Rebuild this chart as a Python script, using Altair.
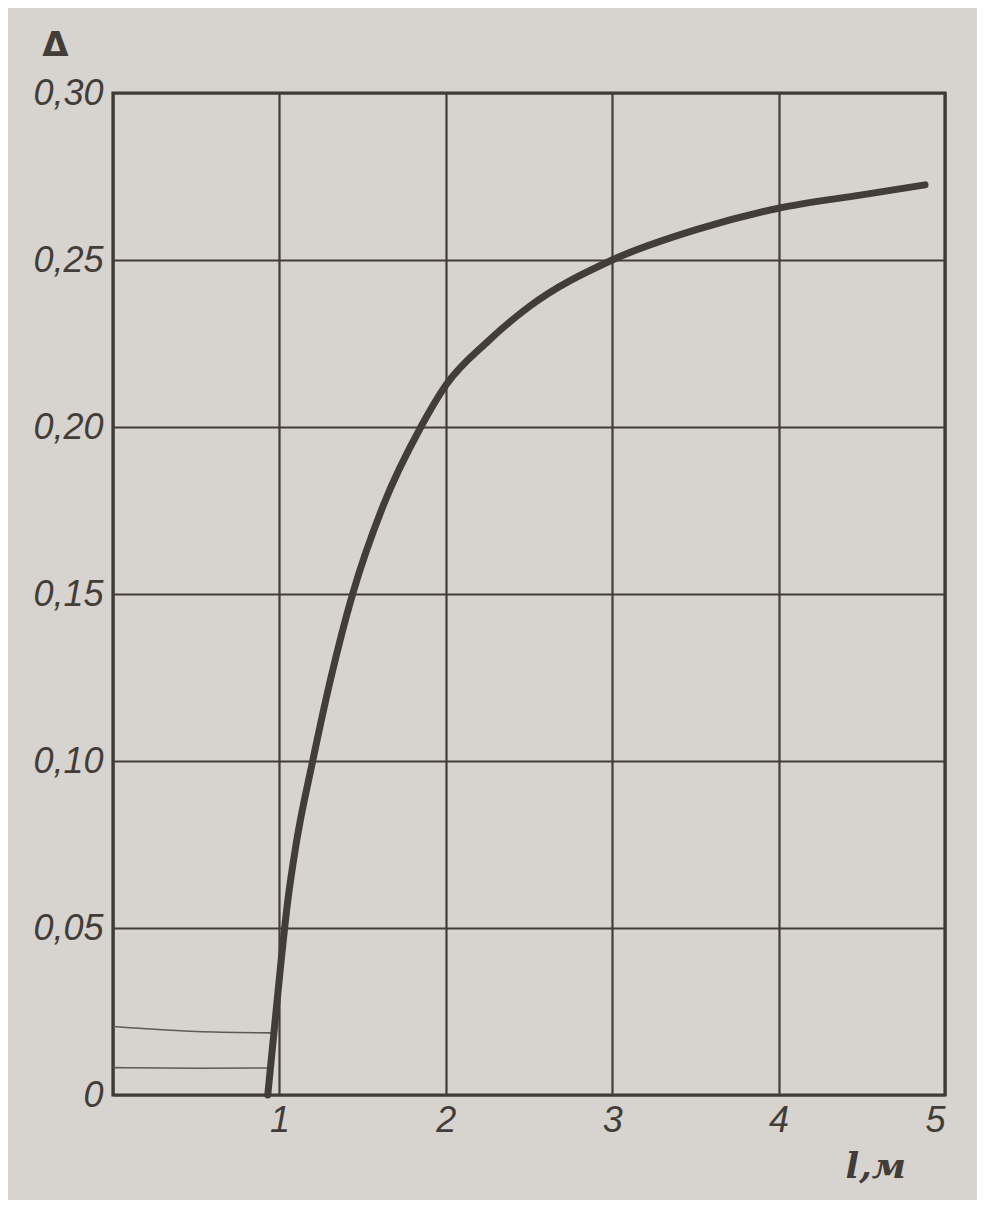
import altair as alt
import pandas as pd

# main curve  Δ(l)
l_vals = [0.93, 0.97, 1.01, 1.05, 1.10, 1.20, 1.31, 1.44, 1.62, 1.85,
          2.0, 2.25, 2.5, 3.0, 3.5, 4.0, 4.5, 4.88]
d_vals = [0.0, 0.02, 0.04, 0.058, 0.075, 0.10, 0.125, 0.15, 0.176, 0.20,
          0.2125, 0.2255, 0.236, 0.25, 0.259, 0.2655, 0.2695, 0.2725]

# faint thin lines at bottom left
faint_x = [0.0, 0.5, 0.95, 0.0, 0.5, 0.95]
faint_y = [0.0205, 0.019, 0.0186, 0.0082, 0.0080, 0.0081]
faint_id = ["a", "a", "a", "b", "b", "b"]

x_ticks = [0, 1, 2, 3, 4, 5]
y_ticks = [0, 0.05, 0.10, 0.15, 0.20, 0.25, 0.30]

ink = "#423d38"
paper = "#d7d3ce"

curve_df = pd.DataFrame({"l": l_vals, "d": d_vals})
faint_df = pd.DataFrame({"l": faint_x, "d": faint_y, "g": faint_id})

xscale = alt.Scale(domain=[0, 5], nice=False, zero=False)
yscale = alt.Scale(domain=[0, 0.30], nice=False)

xaxis = alt.Axis(
    values=x_ticks, grid=True, gridColor=ink, gridWidth=2.2, gridOpacity=1,
    domain=False, ticks=False, labelFont="Liberation Sans", labelFontStyle="italic",
    labelFontSize=36, labelColor=ink, labelPadding=8, format="d",
    labelExpr="datum.value == 0 ? '' : datum.label",
    title="l,м", titleFont="DejaVu Serif", titleFontStyle="italic",
    titleFontWeight="bold", titleFontSize=36, titleColor=ink,
    titleX=732, titleY=82, titleAnchor="start", titleBaseline="alphabetic")
yaxis = alt.Axis(
    values=y_ticks, grid=True, gridColor=ink, gridWidth=2.2, gridOpacity=1,
    domain=False, ticks=False, labelFont="Liberation Sans", labelFontStyle="italic",
    labelFontSize=36, labelColor=ink, labelPadding=10,
    labelExpr="datum.value == 0 ? '0' : replace(format(datum.value, '.2f'), '.', ',')",
    title="Δ", titleAngle=0, titleFont="DejaVu Sans", titleFontWeight="bold",
    titleFontSize=34, titleColor=ink, titleX=-58, titleY=-38,
    titleAlign="center", titleBaseline="alphabetic")

curve = alt.Chart(curve_df).mark_line(
    color=ink, strokeWidth=7, interpolate="monotone", strokeCap="round"
).encode(
    x=alt.X("l:Q", scale=xscale, axis=xaxis),
    y=alt.Y("d:Q", scale=yscale, axis=yaxis),
    order="l:Q",
)

faint = alt.Chart(faint_df).mark_line(
    color="#5e5953", strokeWidth=1.6, interpolate="monotone"
).encode(
    x=alt.X("l:Q", scale=xscale),
    y=alt.Y("d:Q", scale=yscale),
    detail="g:N",
)

chart = alt.layer(faint, curve).properties(
    width=832, height=1002,
    background=paper,
    padding={"left": 105, "top": 85, "right": 32, "bottom": 105},
    autosize=alt.AutoSizeParams(type="none"),
).configure_view(
    stroke="#3a3632", strokeWidth=3.2, fill=paper
)

chart.save("out.html", embed_options={"renderer": "svg", "actions": False})
